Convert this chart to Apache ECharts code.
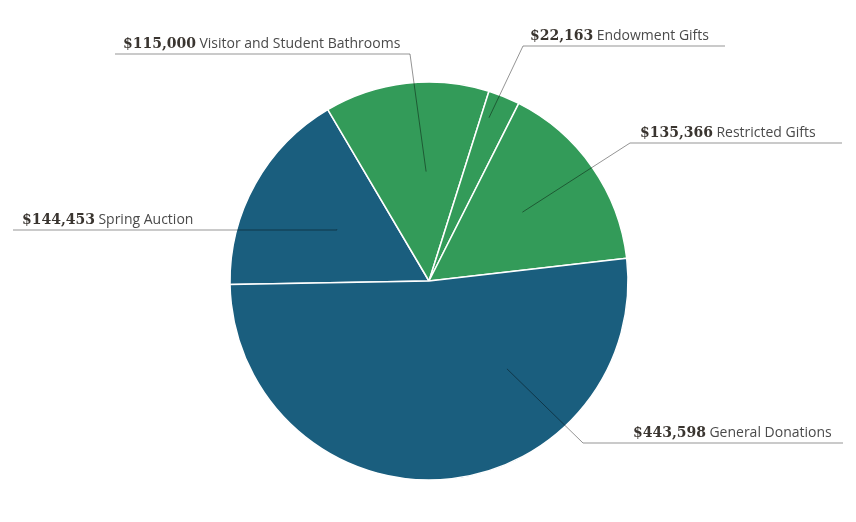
<!DOCTYPE html>
<html>
<head>
<meta charset="utf-8">
<script src="https://cdn.jsdelivr.net/npm/echarts@6/dist/echarts.min.js"></script>
<style>
  html, body { margin: 0; padding: 0; background: #ffffff; }
  #chart { width: 856px; height: 522px; }
</style>
</head>
<body>
<div id="chart"></div>
<script>
// ---- Data ----
const categories = ['Spring Auction', 'Visitor and Student Bathrooms', 'Endowment Gifts', 'Restricted Gifts', 'General Donations'];
const amounts = [144453, 115000, 22163, 135366, 443598];
const sliceColors = ['#1a5e7e', '#339b59', '#339b59', '#339b59', '#1a5e7e'];

// ---- Label placement (layout only) ----
// anchorR: fraction of radius for leader start; angleOffset: degrees added to slice mid-angle
// lineY: y of horizontal rule; elbowX: where rule starts; endX: far end; textX: text start
const labelPlacement = [
  { anchorR: 0.53, angleOffset: 0,   lineY: 230, elbowX: null, endX: 13,  textX: 22 },
  { anchorR: 0.55, angleOffset: -5,  lineY: 54,  elbowX: 410,  endX: 115, textX: 123 },
  { anchorR: 0.874, angleOffset: 2,  lineY: 46,  elbowX: 523,  endX: 725, textX: 530 },
  { anchorR: 0.583, angleOffset: 1.5, lineY: 143, elbowX: 630, endX: 842, textX: 640 },
  { anchorR: 0.59, angleOffset: 37.8, lineY: 443, elbowX: 583, endX: 843, textX: 633 }
];

const CX = 429, CY = 281, R = 199, START = 181;

const chart = echarts.init(document.getElementById('chart'), null, { renderer: 'canvas' });

function fmt(v) { return '$' + v.toLocaleString('en-US'); }

const option = {
  animation: false,
  backgroundColor: '#ffffff',
  series: [{
    type: 'pie',
    z: 2,
    center: [CX, CY],
    radius: [0, R],
    startAngle: START,
    clockwise: true,
    silent: true,
    emphasis: { disabled: true },
    itemStyle: { borderColor: '#ffffff', borderWidth: 1.5 },
    label: { show: false },
    labelLine: { show: false },
    data: categories.map((c, i) => ({
      name: c,
      value: amounts[i],
      itemStyle: { color: sliceColors[i] }
    }))
  }, {
    type: 'pie',
    z: 5,
    center: [CX, CY],
    radius: [0, R],
    startAngle: START,
    clockwise: true,
    avoidLabelOverlap: false,
    silent: true,
    emphasis: { disabled: true },
    itemStyle: { color: 'rgba(0,0,0,0)', borderWidth: 0 },
    data: categories.map((c, i) => ({ name: c, value: amounts[i] })),
    label: {
      show: true,
      position: 'outside',
      formatter: p => '{a|' + fmt(p.value) + '} {b|' + p.name + '}',
      rich: {
        a: { fontFamily: 'DejaVu Serif', fontWeight: 'bold', fontSize: 14, color: '#3a3530' },
        b: { fontFamily: 'Open Sans', fontSize: 14, color: '#4a4a4a' }
      }
    },
    labelLine: {
      show: true,
      length: 10,
      length2: 10,
      lineStyle: { color: 'rgba(0,0,0,0.42)', width: 1 }
    },
    labelLayout: function (params) {
      const cfg = labelPlacement[params.dataIndex];
      const p0 = params.labelLinePoints[0];
      const mid = Math.atan2(p0[1] - CY, p0[0] - CX) - cfg.angleOffset * Math.PI / 180;
      const ax = CX + Math.cos(mid) * R * cfg.anchorR;
      const ay = CY + Math.sin(mid) * R * cfg.anchorR;
      const ex = cfg.elbowX == null ? ax : cfg.elbowX;
      return {
        x: cfg.textX,
        y: cfg.lineY - 3,
        align: 'left',
        verticalAlign: 'bottom',
        labelLinePoints: [[ax, ay], [ex, cfg.lineY], [cfg.endX, cfg.lineY]]
      };
    }
  }]
};

chart.setOption(option);
</script>
</body>
</html>
